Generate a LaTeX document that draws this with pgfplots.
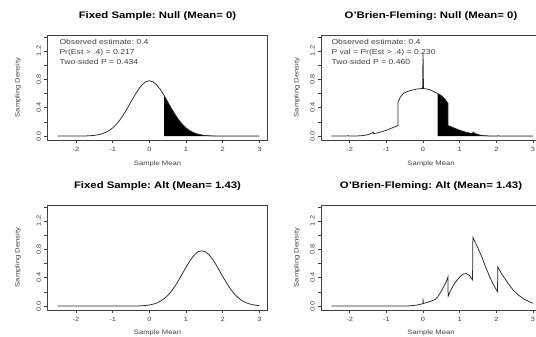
\documentclass[border=0pt]{standalone}
\usepackage{fontspec}
\setmainfont{Liberation Sans}[FakeStretch=1.2]
\usepackage{pgfplots}
\pgfplotsset{compat=1.18}
\frenchspacing
\pgfplotsset{rpanel/.style={
  scale only axis, width=220bp, height=105bp,
  xmin=-2.78, xmax=3.22, ymin=-0.055, ymax=1.425,
  xtick={-2,-1,0,1,2,3}, xticklabels={-2,-1,0,1,2,3},
  ytick={0,0.2,0.4,0.6,0.8,1.0,1.2,1.4}, yticklabels={0.0,,0.4,,0.8,,1.2,},
  tick align=outside, major tick length=3bp, tick pos=left,
  tick style={black!75, line width=0.5bp},
  axis line style={black!75, line width=0.6bp},
  ticklabel style={font=\fontsize{6.2}{7}\selectfont, text=black!75},
  yticklabel style={rotate=90, anchor=south},
  xticklabel style={yshift=-1bp},
  anchor=south west,
}}
\tikzset{ttl/.style={font=\fontsize{9.5}{11}\selectfont\bfseries},
  lab/.style={font=\fontsize{6.4}{7}\selectfont, text=black!75},
  txt/.style={font=\fontsize{7.2}{8.5}\selectfont, text=black!75, anchor=west, inner sep=0pt},
  crv/.style={black!85, line width=0.75bp}}
\begin{document}
\begin{tikzpicture}[x=1bp,y=1bp]
\useasboundingbox (0,0) rectangle (536,336);
% ---------------- Top left
\begin{axis}[rpanel, at={(47.4bp,196bp)}]
\addplot[fill=black, draw=none] coordinates {(0.4,0) (0.4,0.5745) (0.5,0.4837) (0.6,0.3920) (0.7,0.3058) (0.8,0.2296) (0.9,0.1659) (1.0,0.1154) (1.1,0.0772) (1.2,0.0497) (1.3,0.0309) (1.4,0.0184) (1.5,0.0106) (1.6,0.0059) (1.7,0.0031) (1.8,0.0016) (1.9,0.0008) (2.0,0.0004) (2.2,0.0001) (3,0)} -- cycle;
\addplot[crv] coordinates {(-2.5,0) (-2.2,0.0001) (-2.0,0.0004) (-1.9,0.0008) (-1.8,0.0016) (-1.7,0.0031) (-1.6,0.0059) (-1.5,0.0106) (-1.4,0.0184) (-1.3,0.0309) (-1.2,0.0497) (-1.1,0.0772) (-1.0,0.1154) (-0.9,0.1659) (-0.8,0.2296) (-0.7,0.3058) (-0.6,0.3920) (-0.5,0.4837) (-0.4,0.5745) (-0.3,0.6567) (-0.2,0.7226) (-0.1,0.7652) (0,0.78) (0.1,0.7652) (0.2,0.7226) (0.3,0.6567) (0.4,0.5745) (0.5,0.4837) (0.6,0.3920) (0.7,0.3058) (0.8,0.2296) (0.9,0.1659) (1.0,0.1154) (1.1,0.0772) (1.2,0.0497) (1.3,0.0309) (1.4,0.0184) (1.5,0.0106) (1.6,0.0059) (1.7,0.0031) (1.8,0.0016) (1.9,0.0008) (2.0,0.0004) (2.2,0.0001) (2.5,0) (3,0)};
\end{axis}
% ---------------- Top right
\begin{axis}[rpanel, at={(321.1bp,196bp)}]
\addplot[fill=black, draw=none] coordinates {(0.4,0) (0.4,0.60) (0.5,0.57) (0.6,0.52) (0.68,0.46) (0.68,0.15) (0.8,0.125) (0.96,0.09) (1.1,0.065) (1.2,0.05) (1.35,0.035) (1.36,0.055) (1.45,0.03) (1.55,0.015) (1.65,0.007) (1.8,0.002) (2.0,0) (3,0)} -- cycle;
\addplot[crv] coordinates {(-2.5,0) (-2.3,0) (-2.1,0.002) (-2.04,0.005) (-2.03,0.0005) (-1.8,0.002) (-1.65,0.007) (-1.55,0.015) (-1.45,0.03) (-1.36,0.055) (-1.35,0.035) (-1.2,0.05) (-1.1,0.065) (-0.96,0.09) (-0.8,0.125) (-0.68,0.15) (-0.68,0.48) (-0.62,0.55) (-0.54,0.60) (-0.45,0.625) (-0.32,0.645) (-0.2,0.66) (-0.1,0.668) (-0.012,0.67) (-0.006,0.95) (0,1.17) (0.006,0.95) (0.012,0.67) (0.1,0.665) (0.2,0.65) (0.3,0.625) (0.4,0.60) (0.5,0.57) (0.6,0.52) (0.68,0.46) (0.68,0.15) (0.8,0.125) (0.96,0.09) (1.1,0.065) (1.2,0.05) (1.35,0.035) (1.36,0.055) (1.45,0.03) (1.55,0.015) (1.65,0.007) (1.8,0.002) (2.03,0.0005) (2.04,0.005) (2.1,0.002) (2.3,0) (3,0)};
\end{axis}
% ---------------- Bottom left
\begin{axis}[rpanel, at={(47.4bp,26bp)}]
\addplot[crv] coordinates {(-2.5,0) (-1.0,0) (-0.57,0.0004) (-0.47,0.0008) (-0.37,0.0016) (-0.27,0.0031) (-0.17,0.0059) (-0.07,0.0106) (0.03,0.0184) (0.13,0.0309) (0.23,0.0497) (0.33,0.0772) (0.43,0.1154) (0.53,0.1659) (0.63,0.2296) (0.73,0.3058) (0.83,0.3920) (0.93,0.4837) (1.03,0.5745) (1.13,0.6567) (1.23,0.7226) (1.33,0.7652) (1.43,0.78) (1.53,0.7652) (1.63,0.7226) (1.73,0.6567) (1.83,0.5745) (1.93,0.4837) (2.03,0.3920) (2.13,0.3058) (2.23,0.2296) (2.33,0.1659) (2.43,0.1154) (2.53,0.0772) (2.63,0.0497) (2.73,0.0309) (2.83,0.0184) (2.93,0.0106) (3.0,0.0070)};
\end{axis}
% ---------------- Bottom right
\begin{axis}[rpanel, at={(321.1bp,26bp)}]
\addplot[crv] coordinates {(-2.5,0) (-0.6,0) (-0.4,0.003) (-0.2,0.012) (-0.1,0.022) (-0.005,0.035) (0,0.11) (0.005,0.037) (0.1,0.05) (0.2,0.068) (0.32,0.09) (0.4,0.13) (0.45,0.17) (0.54,0.25) (0.62,0.33) (0.68,0.41) (0.685,0.14) (0.75,0.22) (0.86,0.32) (1.0,0.41) (1.09,0.45) (1.18,0.46) (1.27,0.43) (1.35,0.37) (1.36,0.97) (1.45,0.87) (1.59,0.71) (1.7,0.56) (1.82,0.41) (1.92,0.30) (2.03,0.205) (2.04,0.55) (2.15,0.45) (2.32,0.32) (2.45,0.23) (2.59,0.16) (2.75,0.10) (2.9,0.06) (3.0,0.04)};
\end{axis}
% titles
\node[ttl] at (157.5,320.3) {Fixed Sample: Null (Mean= 0)};
\node[ttl] at (431,320.3) {O'Brien-Fleming: Null (Mean= 0)};
\node[ttl] at (157.5,149.7) {Fixed Sample: Alt (Mean= 1.43)};
\node[ttl] at (431,149.7) {O'Brien-Fleming: Alt (Mean= 1.43)};
% axis labels
\node[lab] at (157.5,172) {Sample Mean};
\node[lab] at (431,172) {Sample Mean};
\node[lab] at (157.5,3) {Sample Mean};
\node[lab] at (431,3) {Sample Mean};
\node[lab, rotate=90] at (18,248.5) {Sampling Density};
\node[lab, rotate=90] at (297,248.5) {Sampling Density};
\node[lab, rotate=90] at (18,78.5) {Sampling Density};
\node[lab, rotate=90] at (297,78.5) {Sampling Density};
% annotations
\node[txt] at (59.3,294.3) {Observed estimate: 0.4};
\node[txt] at (59.3,283.7) {Pr(Est > .4) = 0.217};
\node[txt] at (59.3,273.7) {Two-sided P = 0.434};
\node[txt] at (331.3,294.3) {Observed estimate: 0.4};
\node[txt] at (331.3,283.7) {P val = Pr(Est > .4) = 0.230};
\node[txt] at (331.3,273.7) {Two-sided P = 0.460};
\end{tikzpicture}
\end{document}
